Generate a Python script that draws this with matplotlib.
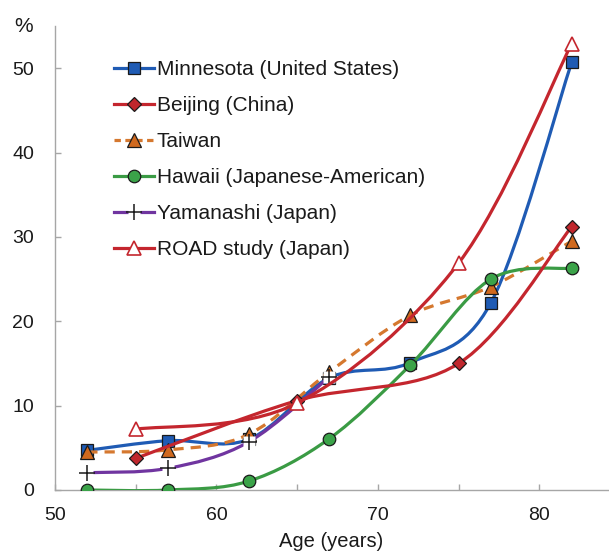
import numpy as np
import matplotlib
matplotlib.use("Agg")
from matplotlib import pyplot as plt
from matplotlib.path import Path
from matplotlib.patches import PathPatch
from matplotlib.lines import Line2D
from matplotlib.ticker import MultipleLocator

plt.rcParams['font.family'] = ['Liberation Sans', 'DejaVu Sans']

# data (age group midpoints, prevalence %)
minnesota_x = [52, 57, 62, 67, 72, 77, 82]
minnesota_y = [4.7, 5.85, 6.0, 13.3, 15.1, 22.2, 50.7]
beijing_x = [55, 65, 75, 82]
beijing_y = [3.75, 10.6, 15.0, 31.2]
taiwan_x = [52, 57, 62, 67, 72, 77, 82]
taiwan_y = [4.5, 4.75, 6.6, 14.0, 20.7, 24.1, 29.5]
hawaii_x = [52, 57, 62, 67, 72, 77, 82]
hawaii_y = [0.0, 0.0, 1.05, 6.1, 14.8, 25.0, 26.3]
yamanashi_x = [52, 57, 62, 67]
yamanashi_y = [2.05, 2.57, 5.7, 13.4]
road_x = [55, 65, 75, 82]
road_y = [7.2, 10.3, 26.9, 52.9]

labels = ["Minnesota (United States)", "Beijing (China)", "Taiwan",
          "Hawaii (Japanese-American)", "Yamanashi (Japan)", "ROAD study (Japan)"]


def smooth_path(xs, ys):
    # Excel-like smoothed line: Catmull-Rom as cubic Bezier segments
    pts = np.column_stack([xs, ys]).astype(float)
    n = len(pts)
    verts = [pts[0]]
    codes = [Path.MOVETO]
    for i in range(n - 1):
        p0 = pts[i - 1] if i > 0 else pts[i]
        p1 = pts[i]
        p2 = pts[i + 1]
        p3 = pts[i + 2] if i + 2 < n else pts[i + 1]
        verts += [p1 + (p2 - p0) / 6, p2 - (p3 - p1) / 6, p2]
        codes += [Path.CURVE4] * 3
    return Path(verts, codes)


fig = plt.figure(figsize=(6.09, 5.52), dpi=100)
ax = fig.add_axes([55 / 609, 62 / 552, 553 / 609, 464 / 552])

lw = 2.3
series = [
    # x, y, line color, linestyle, marker kw
    (minnesota_x, minnesota_y, '#1F5BB4', '-',
     dict(marker='s', ms=8.5, mfc='#1F5BB4', mec='#1a1a1a', mew=0.9)),
    (taiwan_x, taiwan_y, '#D5782F', (0, (3.2, 2.2)),
     dict(marker='^', ms=9.5, mfc='#D0691E', mec='#1a1a1a', mew=0.9)),
    (hawaii_x, hawaii_y, '#3A9B44', '-',
     dict(marker='o', ms=9, mfc='#3BA349', mec='#1a1a1a', mew=0.9)),
    (yamanashi_x, yamanashi_y, '#7035A0', '-', None),
    (beijing_x, beijing_y, '#C4262E', '-',
     dict(marker='D', ms=7.5, mfc='#C0272D', mec='#1a1a1a', mew=0.9)),
    (road_x, road_y, '#C4262E', '-',
     dict(marker='^', ms=10.5, mfc='white', mec='#C4262E', mew=1.2)),
]

for k, (xs, ys, col, ls, mk) in enumerate(series):
    z = 2 + k
    patch = PathPatch(smooth_path(xs, ys), fill=False, edgecolor=col, lw=lw,
                      linestyle=ls, capstyle='round' if ls == '-' else 'butt',
                      joinstyle='round', zorder=z)
    ax.add_patch(patch)
    if mk is None:
        ax.plot(xs, ys, linestyle='none', marker='s', ms=9, mfc='white', mec='none', zorder=z)
        ax.plot(xs, ys, linestyle='none', marker='+', ms=11, color='#1a1a1a', mew=1.1, zorder=z)
    else:
        ax.plot(xs, ys, linestyle='none', zorder=z, **mk)

ax.set_xlim(50, 84.25)
ax.set_ylim(0, 55)
ax.xaxis.set_major_locator(MultipleLocator(10))
ax.xaxis.set_minor_locator(MultipleLocator(5))
ax.yaxis.set_major_locator(MultipleLocator(10))
for s in ['top', 'right']:
    ax.spines[s].set_visible(False)
for s in ['left', 'bottom']:
    ax.spines[s].set_color('#A6A6A6')
    ax.spines[s].set_linewidth(1.0)
ax.tick_params(which='both', direction='in', color='#A6A6A6', length=4, width=1,
               labelsize=14, labelcolor='#1a1a1a')
ax.tick_params(axis='x', pad=12)
ax.tick_params(axis='y', pad=15)
ax.set_xlabel('Age (years)', fontsize=14.5, color='#1a1a1a', labelpad=6)
fig.text(24 / 609, (552 - 32) / 552, '%', fontsize=15, color='#1a1a1a',
         ha='center', va='baseline')

# legend handles
h_min = Line2D([], [], color='#1F5BB4', lw=lw, **series[0][4])
h_bei = Line2D([], [], color='#C4262E', lw=lw, **series[4][4])
h_tai = Line2D([], [], color='#D5782F', lw=lw, linestyle=(0, (2.0, 1.4)), **series[1][4])
h_haw = Line2D([], [], color='#3A9B44', lw=lw, **series[2][4])
h_yam_bg = Line2D([], [], color='#7035A0', lw=lw, marker='s', ms=9, mfc='white', mec='none')
h_yam = Line2D([], [], linestyle='none', marker='+', ms=11, color='#1a1a1a', mew=1.1)
h_road = Line2D([], [], color='#C4262E', lw=lw, **series[5][4])

fig.legend([h_min, h_bei, h_tai, h_haw, (h_yam_bg, h_yam), h_road], labels,
           loc='upper left', bbox_to_anchor=(114 / 609, (552 - 60) / 552),
           frameon=False, fontsize=15, handlelength=1.9, handletextpad=0.15,
           labelspacing=0.82, borderpad=0, borderaxespad=0, labelcolor='#1a1a1a')

fig.savefig('out.png', dpi=100)
